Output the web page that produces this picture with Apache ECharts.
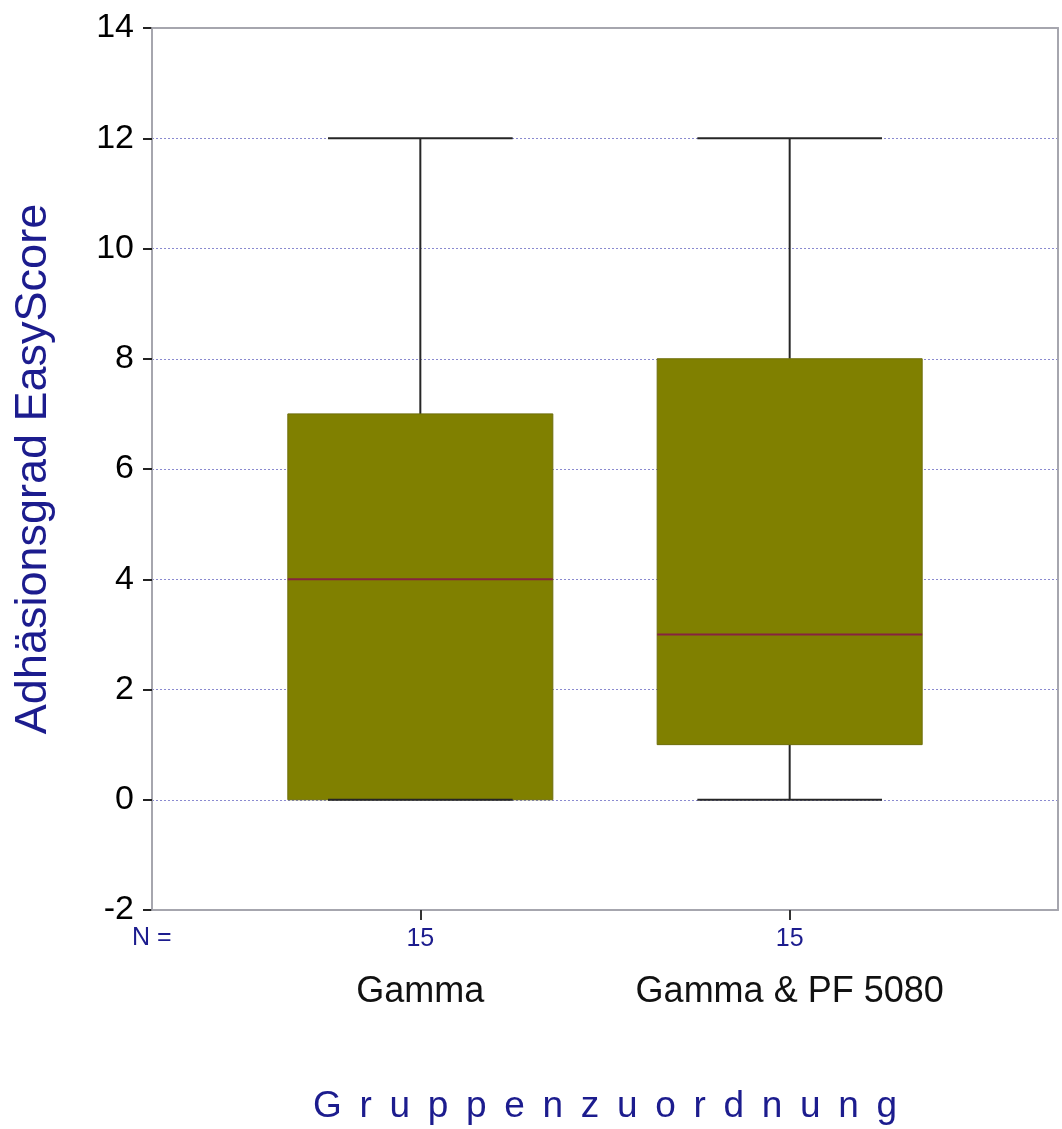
<!DOCTYPE html>
<html>
<head>
<meta charset="utf-8">
<script src="https://cdn.jsdelivr.net/npm/echarts@6/dist/echarts.min.js"></script>
<style>
html,body{margin:0;padding:0;background:#fff;}
#chart{width:1062px;height:1129px;}
</style>
</head>
<body>
<div id="chart"></div>
<script>
// ---- data ----
const categories = ['Gamma', 'Gamma & PF 5080'];
const nValues = [15, 15];
const minVals = [0, 0];
const q1Vals = [0, 1];
const medianVals = [4, 3];
const q3Vals = [7, 8];
const maxVals = [12, 12];
const yMin = -2, yMax = 14, yInterval = 2;
const xTitle = 'Gruppenzuordnung';
const yTitle = 'Adhäsionsgrad EasyScore';

// ---- build ----
const positions = categories.map((c, i) => i + 1);
const boxData = categories.map((c, i) => [positions[i], minVals[i], q1Vals[i], medianVals[i], q3Vals[i], maxVals[i]]);
const spacedTitle = xTitle.split('').join('\u2009 ');
const FONT = 'Liberation Sans, Arial, sans-serif';
const NAVY = '#1c1c8e';
const FRAME = '#a6a6ae';

const chart = echarts.init(document.getElementById('chart'));

function renderBox(params, api) {
  const x = api.value(0);
  const pMin = api.coord([x, api.value(1)]);
  const pQ1 = api.coord([x, api.value(2)]);
  const pMed = api.coord([x, api.value(3)]);
  const pQ3 = api.coord([x, api.value(4)]);
  const pMax = api.coord([x, api.value(5)]);
  const halfBox = api.size([0.7175, 0])[0] / 2;
  const halfCap = api.size([0.5, 0])[0] / 2;
  const cx = pMed[0];
  const wStyle = { stroke: '#262626', lineWidth: 2 };
  return {
    type: 'group',
    children: [
      { type: 'line', shape: { x1: cx, y1: pQ3[1], x2: cx, y2: pMax[1] }, style: wStyle },
      { type: 'line', shape: { x1: cx, y1: pQ1[1], x2: cx, y2: pMin[1] }, style: wStyle },
      { type: 'rect', shape: { x: cx - halfBox, y: pQ3[1], width: halfBox * 2, height: pQ1[1] - pQ3[1] },
        style: { fill: '#808000', stroke: '#6e6e0a', lineWidth: 1 } },
      { type: 'line', shape: { x1: cx - halfBox, y1: pMed[1], x2: cx + halfBox, y2: pMed[1] },
        style: { stroke: '#86233f', lineWidth: 2 } },
      { type: 'line', shape: { x1: cx - halfCap, y1: pMax[1], x2: cx + halfCap, y2: pMax[1] }, style: wStyle },
      { type: 'line', shape: { x1: cx - halfCap, y1: pMin[1], x2: cx + halfCap, y2: pMin[1] }, style: wStyle }
    ]
  };
}

const option = {
  animation: false,
  backgroundColor: '#ffffff',
  textStyle: { fontFamily: FONT },
  grid: { left: 152, right: 4, top: 28, bottom: 219, show: false, containLabel: false, outerBoundsMode: 'none' },
  xAxis: [
    {
      type: 'value', position: 'bottom', min: 0.2735, max: 2.7265, z: 5,
      axisLine: { show: true, onZero: false, lineStyle: { color: FRAME, width: 2 } },
      axisTick: { show: true, customValues: positions, length: 10, lineStyle: { color: '#333', width: 2 } },
      axisLabel: {
        show: true, customValues: positions, margin: 9,
        formatter: v => '{n|' + nValues[Math.round(v) - 1] + '}\n{c|' + categories[Math.round(v) - 1] + '}',
        rich: {
          n: { fontSize: 25, color: NAVY, lineHeight: 40, fontFamily: FONT },
          c: { fontSize: 36, color: '#111', lineHeight: 66, fontFamily: FONT }
        }
      },
      splitLine: { show: false },
      name: spacedTitle, nameLocation: 'middle', nameGap: 178,
      nameTextStyle: { fontSize: 37, color: NAVY, fontFamily: FONT }
    },
    {
      type: 'value', position: 'top', min: 0.2735, max: 2.7265, z: 5,
      axisLine: { show: true, onZero: false, lineStyle: { color: FRAME, width: 2 } },
      axisTick: { show: false }, axisLabel: { show: false }, splitLine: { show: false }
    }
  ],
  yAxis: [
    {
      type: 'value', position: 'left', min: yMin, max: yMax, interval: yInterval,
      axisLine: { show: true, onZero: false, lineStyle: { color: FRAME, width: 2 } },
      axisTick: { show: true, length: 9, lineStyle: { color: '#222', width: 2 } },
      axisLabel: { fontSize: 34, color: '#000', margin: 18, fontFamily: FONT },
      splitLine: { show: true, lineStyle: { color: '#8a8ad0', type: [2, 2], width: 1 } },
      name: yTitle, nameLocation: 'middle', nameGap: 96,
      nameTextStyle: { fontSize: 45, color: NAVY, fontFamily: FONT }
    },
    {
      type: 'value', position: 'right', min: yMin, max: yMax, interval: yInterval, z: 5,
      axisLine: { show: true, onZero: false, lineStyle: { color: FRAME, width: 2 } },
      axisTick: { show: false }, axisLabel: { show: false }, splitLine: { show: false }
    }
  ],
  graphic: [
    { type: 'text', left: 132, top: 926, style: { text: 'N =', fontSize: 25, fill: NAVY, fontFamily: FONT } }
  ],
  series: [
    {
      type: 'custom', xAxisIndex: 0, yAxisIndex: 0, z: 3,
      renderItem: renderBox,
      encode: { x: 0, y: [1, 2, 3, 4, 5] },
      data: boxData
    }
  ]
};
chart.setOption(option);
</script>
</body>
</html>
